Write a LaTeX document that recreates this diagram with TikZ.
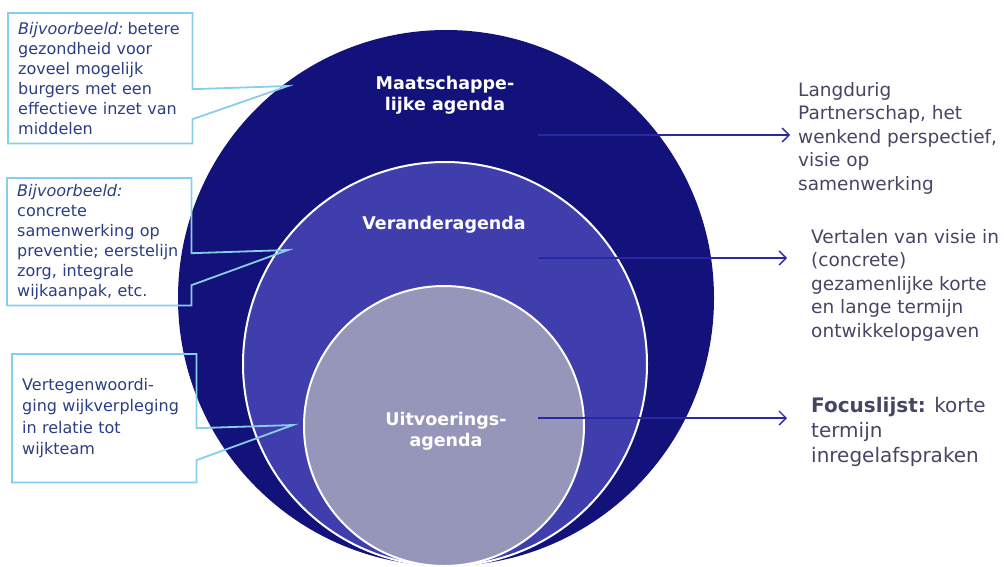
\documentclass[tikz,border=0pt]{standalone}
\usepackage{fontspec}
\setmainfont{DejaVu Sans}
\usetikzlibrary{arrows.meta}

\definecolor{buiten}{RGB}{19,17,122}
\definecolor{midden}{RGB}{64,62,172}
\definecolor{binnen}{RGB}{150,150,186}
\definecolor{kaderblauw}{RGB}{135,206,235}
\definecolor{voorbeeldtekst}{RGB}{42,62,132}
\definecolor{zijtekst}{RGB}{70,70,100}
\definecolor{pijlblauw}{RGB}{40,40,165}

\tikzset{
  agendalabel/.style={text=white, font=\bfseries\fontsize{17.5}{21}\selectfont, align=center},
  voorbeeld/.style={text=voorbeeldtekst, font=\fontsize{16}{20}\selectfont, text width=164pt,
    align=left, inner xsep=10pt, inner ysep=0pt, minimum width=184pt, minimum height=130pt,
    anchor=north west},
  kader/.style={draw=kaderblauw, line width=1.8pt},
  toelichting/.style={text=zijtekst, font=\fontsize{18.5}{23.5}\selectfont, align=left,
    inner sep=0pt, anchor=north west},
  pijl/.style={draw=pijlblauw, line width=1.3pt, -{Straight Barb[length=7pt,width=14pt]}},
}

\begin{document}
\begin{tikzpicture}[x=1pt,y=-1pt]
  \useasboundingbox (0,0) rectangle (1004,566);
  % Nested agenda circles, touching at the bottom
  \fill[buiten] (446,298) circle [radius=268pt];
  \filldraw[fill=midden, draw=white, line width=2pt] (445,364) circle [radius=202pt];
  \filldraw[fill=binnen, draw=white, line width=2pt] (444,426) circle [radius=140pt];
  % Circle labels
  \node[agendalabel] (maatsch) at (445,95) {Maatschappe-\\lijke agenda};
  \node[agendalabel] (verander) at (444,225) {Veranderagenda};
  \node[agendalabel] (uitvoer) at (446,431) {Uitvoerings-\\agenda};
  % Explanations on the right
  \node[toelichting] (lang) at (798,82)
    {Langdurig\\Partnerschap, het\\wenkend perspectief,\\visie op\\samenwerking};
  \node[toelichting] (vertaal) at (811,229)
    {Vertalen van visie in\\(concrete)\\gezamenlijke korte\\en lange termijn\\ontwikkelopgaven};
  \node[toelichting, font=\fontsize{20}{25}\selectfont] (focus) at (811,397)
    {\textbf{Focuslijst:} korte\\termijn\\inregelafspraken};
  % Arrows out of the circles
  \coordinate (p1) at (538,135);
  \coordinate (p2) at (538,258);
  \coordinate (p3) at (538,418);
  \draw[pijl, shorten >=8pt] (p1) -- (p1 -| lang.west);
  \draw[pijl, shorten >=24pt] (p2) -- (p2 -| vertaal.west);
  \draw[pijl, shorten >=24pt] (p3) -- (p3 -| focus.west);
  % Example callouts on the left
  \node[voorbeeld] (vb1) at (8,13)
    {\mbox{\textit{Bijvoorbeeld:}\hspace{4pt}betere}\\gezondheid voor\\zoveel mogelijk\\burgers met een\\effectieve inzet van\\middelen};
  \coordinate (tip1) at (288,86);
  \draw[kader] (vb1.north west) -- (vb1.north east) -- ([yshift=-11pt]vb1.east) -- (tip1)
    -- ([yshift=-41pt]vb1.east) -- (vb1.south east) -- (vb1.south west) -- cycle;
  \node[voorbeeld, minimum height=127pt] (vb2) at (7,178)
    {\textit{Bijvoorbeeld:}\\concrete\\samenwerking op\\\mbox{preventie; eerstelijn}\\zorg, integrale\\wijkaanpak, etc.};
  \coordinate (tip2) at (288,250);
  \draw[kader] (vb2.north west) -- (vb2.north east) -- ([yshift=-11.5pt]vb2.east) -- (tip2)
    -- ([yshift=-43.5pt]vb2.east) -- (vb2.south east) -- (vb2.south west) -- cycle;
  \node[voorbeeld, minimum height=128pt, font=\fontsize{16}{21.5}\selectfont] (vb3) at (12,354)
    {Vertegenwoordi-\\ging wijkverpleging\\in relatie tot\\wijkteam};
  \coordinate (tip3) at (293,425);
  \draw[kader] (vb3.north west) -- (vb3.north east) -- ([yshift=-10pt]vb3.east) -- (tip3)
    -- ([yshift=-42pt]vb3.east) -- (vb3.south east) -- (vb3.south west) -- cycle;
\end{tikzpicture}
\end{document}
